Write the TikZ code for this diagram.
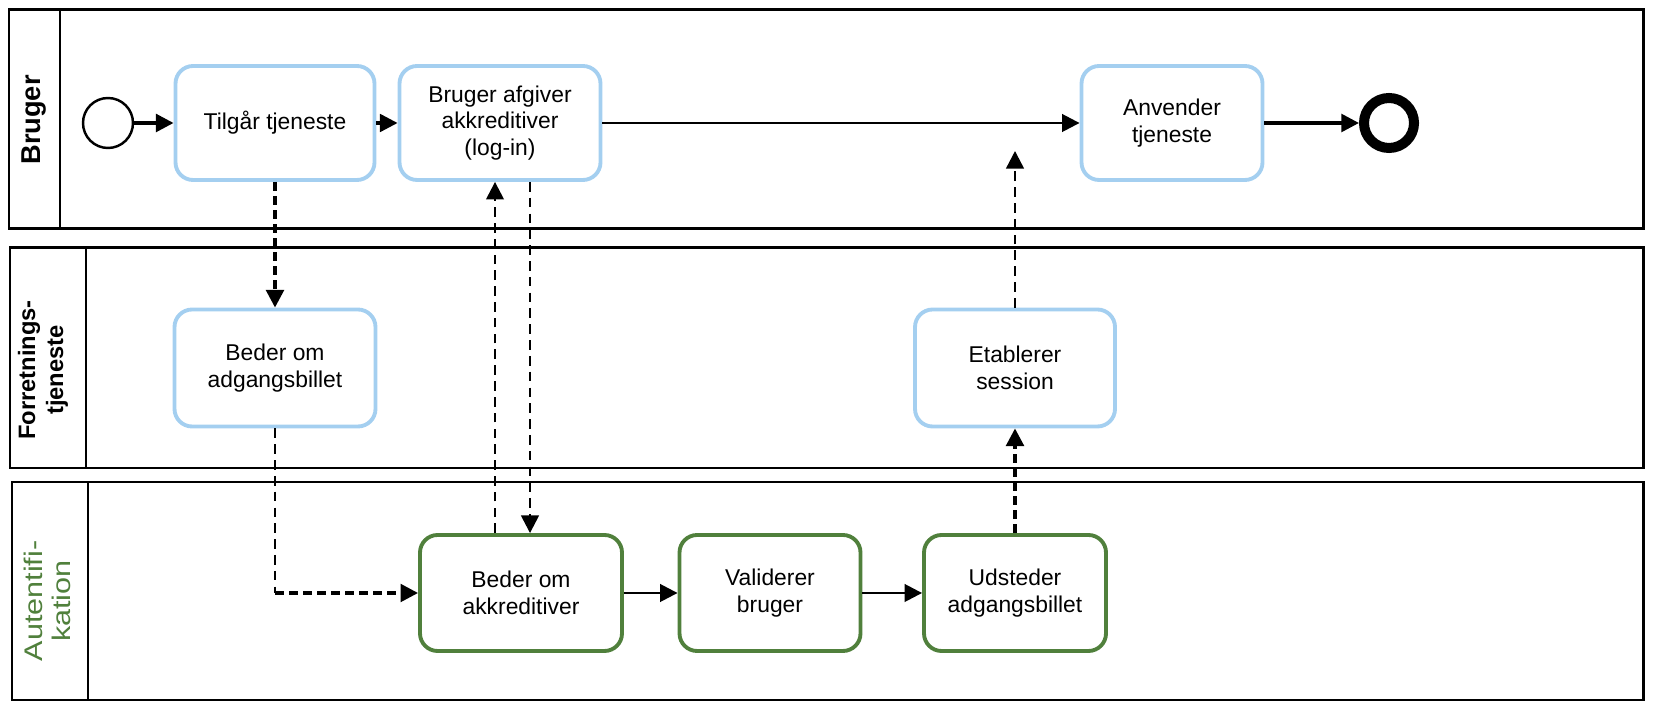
\documentclass[tikz,border=0pt]{standalone}
\usepackage{fontspec}
\setmainfont{Liberation Sans}
\newfontfamily\widesans[FakeStretch=1.2]{Liberation Sans}
\usepackage{tikz}
\usetikzlibrary{positioning}
\usetikzlibrary{arrows.meta}

\definecolor{taskblue}{RGB}{164,207,240}
\definecolor{authgreen}{RGB}{80,128,60}

\tikzset{
  task/.style={draw=taskblue, line width=2.2pt, rounded corners=10pt, fill=white,
    minimum width=3.98cm, minimum height=2.28cm, align=center,
    font=\fontsize{13}{15}\selectfont},
  authtask/.style={task, draw=authgreen, minimum height=2.32cm},
  lane/.style={line width=1.7pt},
  lanelabel/.style={rotate=90, align=center, font=\bfseries\fontsize{13.5}{16}\selectfont},
  flow/.style={-{Triangle[length=10pt,width=10pt]}, line width=1.5pt},
  msg/.style={flow, line width=2pt, dash pattern=on 5pt off 3pt},
  thinmsg/.style={flow, line width=1.4pt, dash pattern=on 5.5pt off 3.5pt}
}

\begin{document}
\begin{tikzpicture}
  \useasboundingbox (0,0) rectangle (33.2,14.32);

  \draw[lane] (0.18,14.12) rectangle (32.86,9.74);
  \draw[lane] (1.2,14.12) -- (1.2,9.74);
  \draw[lane] (0.2,9.36) rectangle (32.86,4.96);
  \draw[lane] (1.72,9.36) -- (1.72,4.96);
  \draw[lane] (0.24,4.68) rectangle (32.86,0.32);
  \draw[lane] (1.76,4.68) -- (1.76,0.32);

  \node[lanelabel, font=\bfseries\fontsize{15.5}{18}\selectfont] at (0.68,11.92) (bruger) {Bruger};
  \node[lanelabel] at (0.86,6.92) (forretning) {Forretnings-\\tjeneste};
  \node[lanelabel, text=authgreen, font=\widesans\fontsize{14.5}{16}\selectfont] at (0.94,2.3) (autent) {Autentifi-\\kation};

  \node[circle, draw, line width=1.4pt, minimum size=1cm] at (2.16,11.86) (start) {};
  \node[task] at (5.5,11.86) (tilgaar) {Tilgår tjeneste};
  \node[task, minimum width=4.02cm] at (10,11.86) (afgiver) {Bruger afgiver\\akkreditiver\\(log-in)};
  \node[task, minimum width=3.62cm] at (23.44,11.86) (anvender) {Anvender\\tjeneste};
  \node[circle, draw, line width=5.7pt, minimum size=1cm] at (27.78,11.86) (slut) {};

  \node[task, minimum width=4.02cm, minimum height=2.34cm] at (5.5,6.96) (billet) {Beder om\\adgangsbillet};
  \node[task, minimum width=4cm, minimum height=2.34cm] at (20.3,6.96) (session) {Etablerer\\session};

  \node[authtask, minimum width=4.04cm] at (10.42,2.46) (akkred) {Beder om\\akkreditiver};
  \node[authtask, minimum width=3.62cm] at (15.4,2.46) (valider) {Validerer\\bruger};
  \node[authtask, minimum width=3.64cm] at (20.3,2.46) (udsteder) {Udsteder\\adgangsbillet};

  \coordinate (knaek) at (billet.south |- akkred.west);
  \coordinate (brugerpil) at (20.3,11.3);

  \draw[flow, line width=2pt] (start) -- (tilgaar);
  \draw[flow, line width=1.8pt] (tilgaar) -- (afgiver);
  \draw[flow] (afgiver) -- (anvender);
  \draw[flow, line width=2pt] (anvender) -- (slut);
  \draw[flow] (akkred) -- (valider);
  \draw[flow] (valider) -- (udsteder);

  \draw[msg] (tilgaar.south) -- (billet.north);
  \draw[thinmsg, -] (billet.south) -- (knaek);
  \draw[msg] (knaek) -- (akkred.west);
  \draw[thinmsg] ([xshift=-0.52cm]akkred.north) -- ([xshift=-0.52cm]akkred.north |- afgiver.south);
  \draw[thinmsg] ([xshift=0.6cm]afgiver.south) -- ([xshift=0.6cm]afgiver.south |- akkred.north);
  \draw[msg] (udsteder.north) -- (session.south);
  \draw[thinmsg] (session.north) -- (brugerpil);
\end{tikzpicture}
\end{document}
